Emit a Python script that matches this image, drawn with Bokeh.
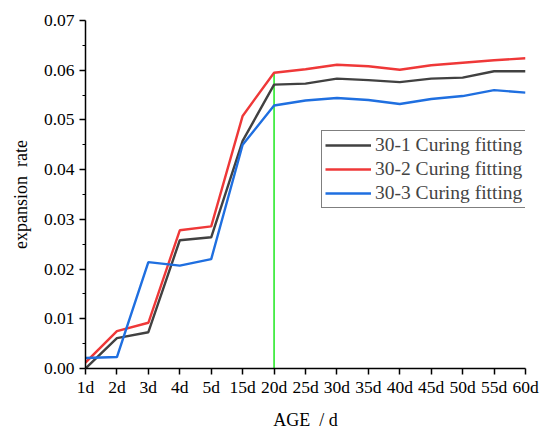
from bokeh.plotting import figure
from bokeh.models import Legend, LegendItem, FixedTicker, Range1d, NumeralTickFormatter
from bokeh.embed import file_html
from bokeh.resources import INLINE

ages = ["1d", "2d", "3d", "4d", "5d", "15d", "20d", "25d", "30d", "35d", "40d", "45d", "50d", "55d", "60d"]
s1 = [0.0000, 0.0061, 0.0073, 0.0258, 0.0264, 0.0458, 0.0571, 0.0573, 0.0583, 0.0580, 0.0576, 0.0583, 0.0585, 0.0598, 0.0598]
s2 = [0.0012, 0.0075, 0.0092, 0.0278, 0.0286, 0.0508, 0.0595, 0.0602, 0.0611, 0.0608, 0.0601, 0.0610, 0.0615, 0.0620, 0.0624]
s3 = [0.0021, 0.0023, 0.0214, 0.0207, 0.0220, 0.0450, 0.0529, 0.0539, 0.0544, 0.0540, 0.0532, 0.0542, 0.0548, 0.0560, 0.0555]
names = ["30-1 Curing fitting", "30-2 Curing fitting", "30-3 Curing fitting"]
colors = ["#414141", "#ef3838", "#1f6fe0"]
marker_age = "20d"

FONT = "Liberation Serif"
xs = list(range(len(ages)))

p = figure(width=540, height=432, output_backend="svg", toolbar_location=None,
           x_range=Range1d(0, len(ages) - 1), y_range=Range1d(0, 0.07),
           min_border_left=85, min_border_right=15, min_border_top=20, min_border_bottom=60)
p.outline_line_color = None
p.grid.visible = False
p.background_fill_color = "white"

mi = ages.index(marker_age)
p.segment(x0=[mi], y0=[0], x1=[mi], y1=[s2[mi]], line_color="#1ee81e", line_width=1.5)

renderers = []
for ys, c in zip([s1, s2, s3], colors):
    r = p.line(xs, ys, line_color=c, line_width=2.4)
    renderers.append(r)

legend = Legend(items=[LegendItem(label=n, renderers=[r]) for n, r in zip(names, renderers)],
                location=(236, 160))
legend.label_text_font = FONT
legend.label_text_font_size = "19.5px"
legend.label_height = 20
legend.border_line_color = "black"
legend.border_line_width = 1
legend.padding = 3
legend.spacing = 2
legend.glyph_width = 46
legend.label_standoff = 4
legend.background_fill_alpha = 1
p.add_layout(legend)

p.xaxis.ticker = FixedTicker(ticks=xs)
p.xaxis.major_label_overrides = {i: a for i, a in enumerate(ages)}
p.yaxis.ticker = FixedTicker(ticks=[i * 0.01 for i in range(8)], minor_ticks=[0.005 + i * 0.01 for i in range(7)])
p.yaxis.formatter = NumeralTickFormatter(format="0.00")

for ax in [p.xaxis[0], p.yaxis[0]]:
    ax.axis_line_color = "black"
    ax.axis_line_width = 1.5
    ax.major_tick_line_color = "black"
    ax.major_tick_line_width = 1.5
    ax.minor_tick_line_color = "black"
    ax.major_tick_out = 6
    ax.major_tick_in = 0
    ax.minor_tick_out = 3
    ax.minor_tick_in = 0
    ax.major_label_text_font = FONT
    ax.major_label_text_font_size = "17.5px"
    ax.major_label_text_color = "black"
    ax.axis_label_text_font = FONT
    ax.axis_label_text_font_size = "18px"
    ax.axis_label_text_font_style = "normal"
    ax.axis_label_text_color = "black"

p.xaxis.minor_tick_line_color = None
p.xaxis.axis_label = "AGE\u00a0\u00a0/ d"
p.yaxis.axis_label = "expansion\u00a0\u00a0rate"
p.xaxis.major_label_standoff = 2
p.xaxis.axis_label_standoff = 10
p.yaxis.major_label_standoff = 5
p.yaxis.axis_label_standoff = 10

open("out.html", "w").write(file_html(p, INLINE))
